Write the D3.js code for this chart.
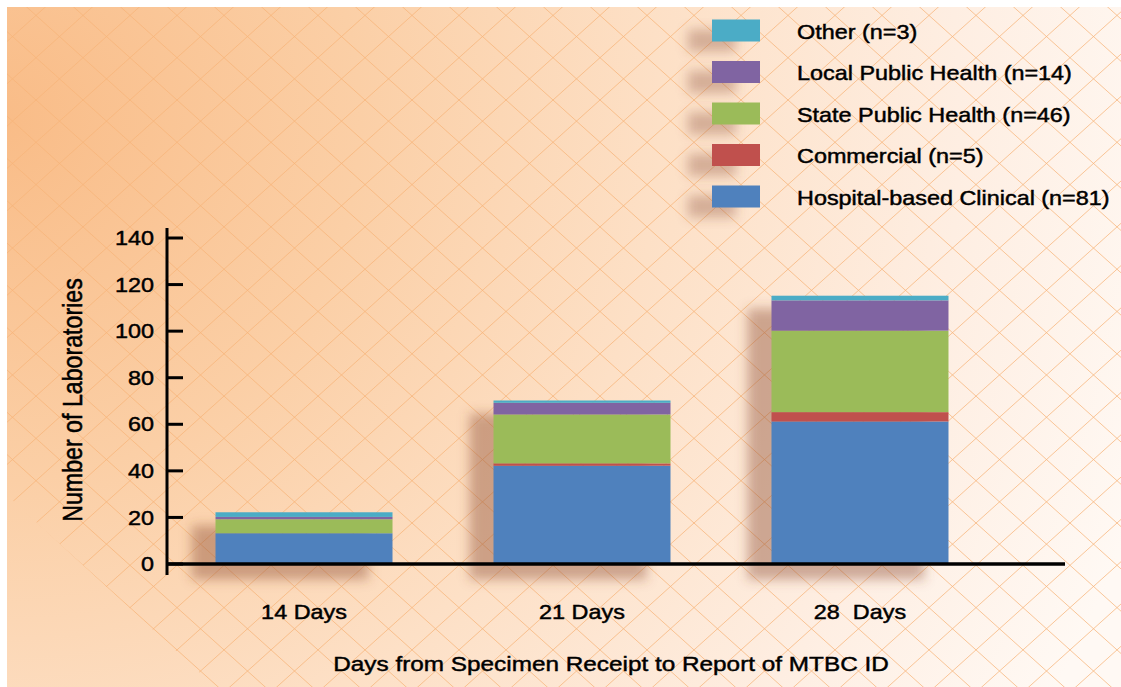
<!DOCTYPE html>
<html>
<head>
<meta charset="utf-8">
<script src="https://cdn.jsdelivr.net/npm/d3@7"></script>
<style>
  body { margin: 0; background: #fff; }
  svg { display: block; }
  text { font-family: "Liberation Sans", Arial, Helvetica, sans-serif; fill: #000; stroke: #000; stroke-width: 0.45px; }
</style>
</head>
<body>
<svg id="chart" width="1121" height="687"></svg>
<script>
// data
const categories = ['14 Days', '21 Days', '28  Days']
const seriesKeys = ['hospital', 'commercial', 'statePH', 'localPH', 'other']
const seriesLabels = ['Hospital-based Clinical (n=81)', 'Commercial (n=5)', 'State Public Health (n=46)', 'Local Public Health (n=14)', 'Other (n=3)']
const seriesColors = ['#4F81BD', '#C0504D', '#9BBB59', '#8064A2', '#4BACC6']
const hospital = [13, 42, 61]
const commercial = [0, 1, 4]
const statePH = [6, 21, 35]
const localPH = [1, 5, 13]
const other = [2, 1, 2]
const yTicks = [0, 20, 40, 60, 80, 100, 120, 140]
const yTitle = 'Number of Laboratories'
const xTitle = 'Days from Specimen Receipt to Report of MTBC ID'

const stretch = 1.17
const svg = d3.select('#chart')
const defs = svg.append('defs')

// background
const grad = defs.append('radialGradient')
  .attr('id', 'bg')
  .attr('gradientUnits', 'userSpaceOnUse')
  .attr('cx', 0).attr('cy', 120).attr('r', 1200)
const stops = [[0, '#F9BC87'], [0.3, '#FBCFA6'], [0.55, '#FDE0C6'], [0.8, '#FEEEE2'], [1, '#FFF9F4']]
stops.forEach(s => grad.append('stop').attr('offset', s[0]).attr('stop-color', s[1]))

defs.append('filter').attr('id', 'blur')
  .attr('x', '-50%').attr('y', '-50%').attr('width', '200%').attr('height', '200%')
  .append('feGaussianBlur').attr('stdDeviation', 6)

defs.append('clipPath').attr('id', 'latticeClip')
  .append('path')
  .attr('d', 'M7,7 H1121 V687 H215 L7,495 Z')

svg.append('rect')
  .attr('x', 7).attr('y', 7)
  .attr('width', 1114).attr('height', 680)
  .attr('fill', 'url(#bg)')

// diagonal lattice
const lattice = svg.append('g').attr('clip-path', 'url(#latticeClip)')
  .attr('stroke', '#F7B47A').attr('stroke-opacity', 0.75).attr('stroke-width', 1).attr('fill', 'none')
const slope = 0.9
for (let k = -40; k <= 40; k++) {
  const c = 976 + k * 47
  lattice.append('line')
    .attr('x1', c - 800).attr('y1', 523 - slope * 800)
    .attr('x2', c + 800).attr('y2', 523 + slope * 800)
  lattice.append('line')
    .attr('x1', c - 800).attr('y1', 523 + slope * 800)
    .attr('x2', c + 800).attr('y2', 523 - slope * 800)
}

// scales
const x = d3.scaleBand()
  .domain(categories)
  .range([165, 999])
  .paddingInner(0.3633)
  .paddingOuter(0.1817)

const y = d3.scaleLinear()
  .domain([0, 140])
  .range([563.5, 237.5])

const color = d3.scaleOrdinal().domain(seriesKeys).range(seriesColors)

const table = categories.map((c, i) => ({
  category: c,
  hospital: hospital[i],
  commercial: commercial[i],
  statePH: statePH[i],
  localPH: localPH[i],
  other: other[i]
}))
const stacked = d3.stack().keys(seriesKeys)(table)

// shadows behind bars
const last = stacked[stacked.length - 1]
svg.append('g')
  .selectAll('rect')
  .data(last)
  .enter()
  .append('rect')
  .attr('x', d => x(d.data.category) - 24)
  .attr('y', d => y(d[1]) + 13)
  .attr('width', x.bandwidth())
  .attr('height', d => y(0) - y(d[1]) + 3)
  .attr('fill', '#8A4A30')
  .attr('fill-opacity', 0.42)
  .attr('filter', 'url(#blur)')

// bars
svg.append('g')
  .selectAll('g')
  .data(stacked)
  .enter()
  .append('g')
  .attr('fill', d => color(d.key))
  .selectAll('rect')
  .data(d => d)
  .enter()
  .append('rect')
  .attr('x', d => x(d.data.category))
  .attr('y', d => y(d[1]))
  .attr('width', x.bandwidth())
  .attr('height', d => y(d[0]) - y(d[1]))

// y axis
const yAxis = svg.append('g')
  .attr('transform', 'translate(167,0)')
  .call(d3.axisLeft(y).tickValues(yTicks).tickSize(-16).tickPadding(13))
yAxis.select('.domain').remove()
yAxis.selectAll('.tick line').attr('stroke', '#000').attr('stroke-width', 3)
yAxis.selectAll('.tick text')
  .attr('x', null)
  .attr('transform', `translate(-13,0) scale(${stretch},1)`)
  .attr('dy', '0.36em')
  .style('font-size', '20px')
  .style('font-family', '"Liberation Sans", Arial, sans-serif')
  .attr('fill', '#000')
svg.append('line')
  .attr('x1', 167).attr('x2', 167)
  .attr('y1', 228).attr('y2', 575)
  .attr('stroke', '#000').attr('stroke-width', 3)

// x axis
svg.append('line')
  .attr('x1', 166).attr('x2', 1065)
  .attr('y1', y(0) + 0.5).attr('y2', y(0) + 0.5)
  .attr('stroke', '#000').attr('stroke-width', 3.5)

const xAxis = svg.append('g')
  .attr('transform', `translate(0,${y(0)})`)
  .call(d3.axisBottom(x).tickSize(0))
xAxis.select('.domain').remove()
xAxis.selectAll('.tick text')
  .attr('y', null).attr('dy', null)
  .attr('transform', `translate(0,55) scale(${stretch},1)`)
  .style('font-size', '20px')
  .style('font-family', '"Liberation Sans", Arial, sans-serif')
  .style('white-space', 'pre')
  .attr('fill', '#000')

// axis titles
svg.append('text')
  .attr('transform', `translate(611,671) scale(${stretch},1)`)
  .attr('text-anchor', 'middle')
  .style('font-size', '20.8px')
  .text(xTitle)

svg.append('text')
  .attr('transform', `translate(82,400) scale(${stretch},1) rotate(-90)`)
  .attr('text-anchor', 'middle')
  .style('font-size', '23.2px')
  .text(yTitle)

// legend, top row is the last series
const legendOrder = seriesKeys.slice().reverse()
const ly = d3.scalePoint().domain(legendOrder).range([30.5, 196.5])
const legend = svg.append('g')

legend.selectAll('rect.shadow')
  .data(legendOrder)
  .enter()
  .append('rect')
  .attr('class', 'shadow')
  .attr('x', 712 - 24)
  .attr('y', d => ly(d) - 11 + 10)
  .attr('width', 48)
  .attr('height', 22)
  .attr('fill', '#8A4A30')
  .attr('fill-opacity', 0.35)
  .attr('filter', 'url(#blur)')

legend.selectAll('rect.swatch')
  .data(legendOrder)
  .enter()
  .append('rect')
  .attr('class', 'swatch')
  .attr('x', 712)
  .attr('y', d => ly(d) - 11)
  .attr('width', 48)
  .attr('height', 22)
  .attr('fill', d => color(d))

legend.selectAll('text')
  .data(legendOrder)
  .enter()
  .append('text')
  .attr('transform', d => `translate(797,${ly(d) + 8}) scale(${stretch},1)`)
  .style('font-size', '20px')
  .text(d => seriesLabels[seriesKeys.indexOf(d)])
</script>
</body>
</html>
